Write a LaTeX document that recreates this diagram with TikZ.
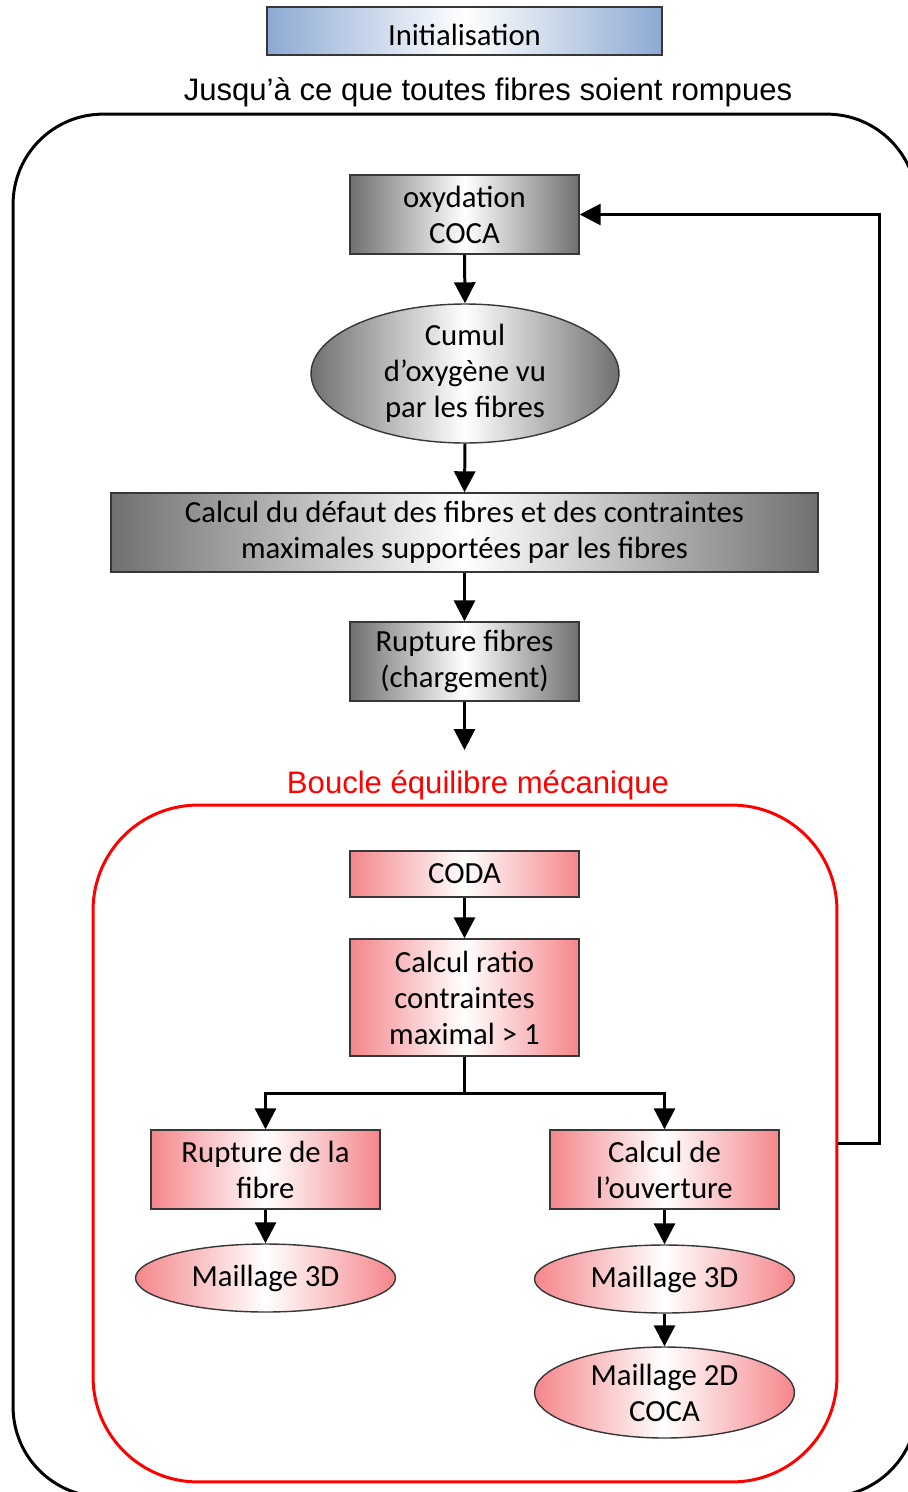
\documentclass[tikz,border=0pt]{standalone}
\usepackage{fontspec}
\setmainfont{Liberation Sans}
\newfontfamily\boxfont{Carlito}
\usetikzlibrary{shapes.geometric,arrows.meta}
\definecolor{grayout}{RGB}{112,112,112}
\definecolor{pinkout}{RGB}{244,134,139}
\definecolor{blueout}{RGB}{141,170,212}
\definecolor{edgec}{RGB}{55,55,55}
\begin{document}
\begin{tikzpicture}[x=0.02cm,y=-0.02cm,
  base/.style={draw=edgec, line width=0.8pt, font=\boxfont\fontsize{17.5}{20.5}\selectfont, align=center, inner sep=0pt, text=black},
  graybox/.style={base, rectangle, left color=grayout, right color=grayout, middle color=white},
  pinkbox/.style={base, rectangle, left color=pinkout, right color=pinkout, middle color=white},
  bluebox/.style={base, rectangle, left color=blueout, right color=blueout, middle color=white},
  grayell/.style={base, ellipse, inner sep=-12pt, left color=grayout, right color=grayout, middle color=white},
  pinkell/.style={base, ellipse, inner sep=-12pt, left color=pinkout, right color=pinkout, middle color=white},
  title/.style={font=\fontsize{17.7}{21}\selectfont, inner sep=0pt},
  conn/.style={line width=1.7pt, black},
  arr/.style={conn, -{Triangle[width=0.42cm,length=0.42cm]}},
  frame/.style={line width=1.7pt, inner sep=0pt, fill=none}
]
\path[use as bounding box, clip] (0,0) rectangle (908,1492);

\node[bluebox, minimum width=7.9cm, minimum height=0.96cm] (init) at (464.5,31) {\raisebox{-0.07cm}[\height][\depth]{Initialisation}};
\node[title] (tit) at (488,92) {Jusqu’à ce que toutes fibres soient rompues};

\node[frame, draw=black, rounded corners=1.8cm, minimum width=18.08cm, minimum height=27.66cm] (outer) at (465,805.5) {};

\node[graybox, minimum width=4.58cm, minimum height=1.58cm] (oxy) at (464.5,214.5) {oxydation\\COCA};
\node[grayell, minimum width=6.16cm, minimum height=2.78cm] (cumul) at (465,373.5) {Cumul\\d’oxygène vu\\par les fibres};
\node[graybox, minimum width=14.14cm, minimum height=1.58cm] (calc) at (464.5,532.5) {Calcul du défaut des fibres et des contraintes\\maximales supportées par les fibres};
\node[graybox, minimum width=4.58cm, minimum height=1.58cm] (rupt) at (464.5,661.5) {Rupture fibres\\(chargement)};
\coordinate (free) at (464.5,750);

\node[title, text=red] (btit) at (478,785) {Boucle équilibre mécanique};
\node[frame, draw=red, rounded corners=2.1cm, minimum width=14.88cm, minimum height=13.54cm] (loop) at (465,1143.5) {};

\node[pinkbox, minimum width=4.58cm, minimum height=0.92cm] (coda) at (464.5,874) {CODA};
\node[pinkbox, minimum width=4.58cm, minimum height=2.34cm] (ratio) at (464.5,997.5) {Calcul ratio\\contraintes\\maximal > 1};
\coordinate (split) at (464.5,1093);
\node[pinkbox, minimum width=4.58cm, minimum height=1.58cm] (rfib) at (265.5,1169.5) {Rupture de la\\fibre};
\node[pinkbox, minimum width=4.58cm, minimum height=1.58cm] (ouv) at (664.5,1169.5) {Calcul de\\l’ouverture};
\node[pinkell, minimum width=5.2cm, minimum height=1.36cm] (m3l) at (265.5,1278) {Maillage 3D};
\node[pinkell, minimum width=5.2cm, minimum height=1.36cm] (m3r) at (664.5,1279) {Maillage 3D};
\node[pinkell, minimum width=5.2cm, minimum height=1.82cm] (m2d) at (664.5,1392.5) {Maillage 2D\\COCA};

\draw[arr] (oxy.south) -- (cumul.north);
\draw[arr] (cumul.south) -- (calc.north);
\draw[arr] (calc.south) -- (rupt.north);
\draw[arr] (rupt.south) -- (free);
\draw[arr] (coda.south) -- (ratio.north);
\draw[conn] (ratio.south) -- (split);
\draw[arr] (split) -| (rfib.north);
\draw[arr] (split) -| (ouv.north);
\draw[arr] (rfib.south) -- (m3l.north);
\draw[arr] (ouv.south) -- (m3r.north);
\draw[arr] (m3r.south) -- (m2d.north);
\draw[arr] (loop.east) -- ++(41,0) |- (oxy.east);
\end{tikzpicture}
\end{document}
